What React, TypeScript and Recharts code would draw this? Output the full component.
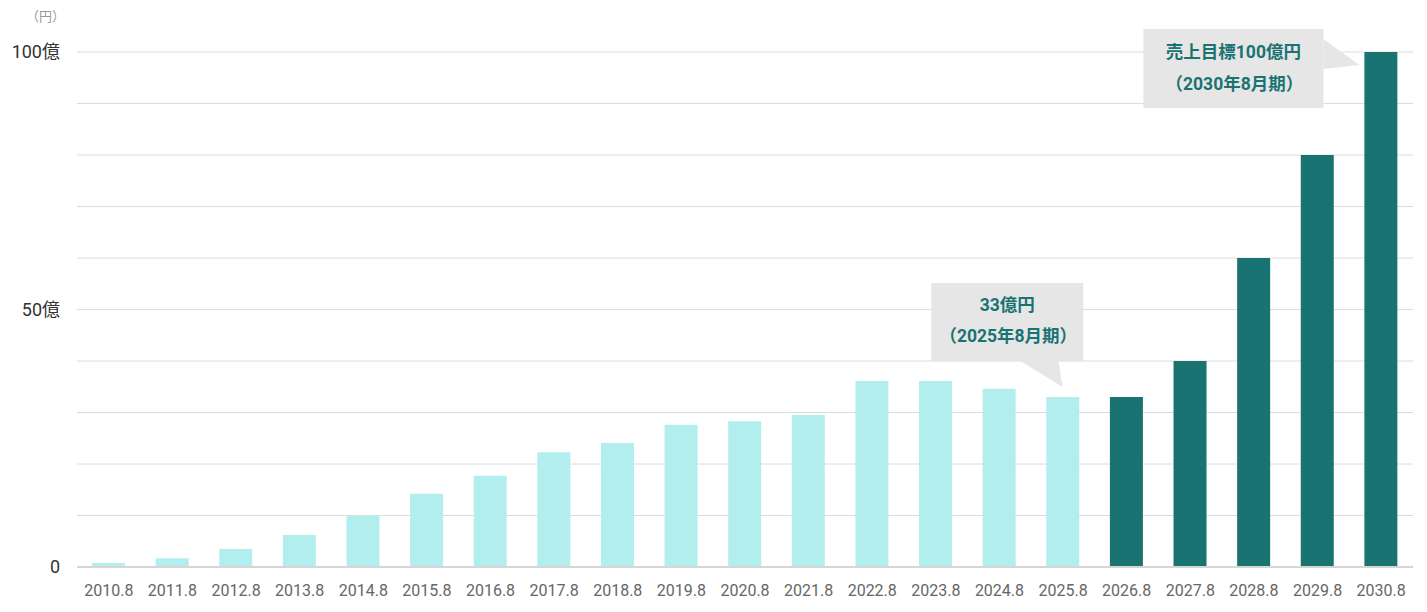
import React from "react";
import { BarChart, Bar, XAxis, YAxis, CartesianGrid, Cell, LabelList } from "recharts";

const years = [
  "2010.8", "2011.8", "2012.8", "2013.8", "2014.8", "2015.8", "2016.8",
  "2017.8", "2018.8", "2019.8", "2020.8", "2021.8", "2022.8", "2023.8",
  "2024.8", "2025.8", "2026.8", "2027.8", "2028.8", "2029.8", "2030.8",
];
// 売上（億円）
const sales = [
  0.8, 1.7, 3.5, 6.2, 10.0, 14.2, 17.7, 22.3, 24.1, 27.6, 28.3, 29.5,
  36.1, 36.1, 34.6, 33.0, 33.0, 40.0, 60.0, 80.0, 100.0,
];
const yTicks = [0, 10, 20, 30, 40, 50, 60, 70, 80, 90, 100];
const yTickLabels: Record<number, string> = { 0: "0", 50: "50億", 100: "100億" };

const actualColor = "#b3eeee";
const planColor = "#1a7373";
const firstPlanYear = "2026.8";

const noteYears = ["2025.8", "2030.8"];
const noteLines = [
  ["33億円", "（2025年8月期）"],
  ["売上目標100億円", "（2030年8月期）"],
];

const data = years.map((y, i) => ({ year: y, sales: sales[i] }));
const planStart = years.indexOf(firstPlanYear);

const font = "Roboto, 'Noto Sans CJK JP', sans-serif";

function Callout(props: any) {
  const { x, y, width, index } = props;
  const n = noteYears.indexOf(years[index]);
  if (n < 0) return null;
  const lines = noteLines[n];
  const textStyle = { fontFamily: font, fontSize: 17.5, fontWeight: 700, fill: planColor };
  if (n === 0) {
    // box above-left of bar, pointer down to bar top
    const bx = x - 115, by = y - 114, bw = 152, bh = 78;
    const cx = bx + bw / 2;
    return (
      <g>
        <rect x={bx} y={by} width={bw} height={bh} fill="#e6e6e6" />
        <polygon points={`${x - 26},${by + bh} ${x + 12},${by + bh} ${x + width / 2},${y - 10}`} fill="#e6e6e6" />
        <text x={cx} y={by + 28} textAnchor="middle" style={textStyle}>{lines[0]}</text>
        <text x={cx + 1} y={by + 59} textAnchor="middle" style={textStyle}>{lines[1]}</text>
      </g>
    );
  }
  // box left of bar, pointer right to bar
  const bx = x - 221, by = y - 23, bw = 180, bh = 79;
  const cx = bx + bw / 2;
  return (
    <g>
      <rect x={bx} y={by} width={bw} height={bh} fill="#e6e6e6" />
      <polygon points={`${bx + bw},${by + 10} ${x - 5},${y + 13} ${bx + bw},${by + 40}`} fill="#e6e6e6" />
      <text x={cx} y={by + 29} textAnchor="middle" style={textStyle}>{lines[0]}</text>
      <text x={cx + 1} y={by + 61} textAnchor="middle" style={textStyle}>{lines[1]}</text>
    </g>
  );
}

export default function App() {
  return (
    <div style={{ position: "absolute", left: 0, top: 0, width: 1427, height: 612, background: "#fff", fontFamily: font }}>
      <div style={{ position: "absolute", left: 26, top: 6, fontSize: 13, color: "#999" }}>（円）</div>
      <BarChart
        width={1427}
        height={612}
        data={data}
        margin={{ top: 52, right: 14, bottom: 0, left: 0 }}
        barSize={33}
      >
        <CartesianGrid vertical={false} stroke="#dcdcdc" strokeWidth={1} />
        <XAxis
          dataKey="year"
          height={45}
          tickLine={false}
          axisLine={{ stroke: "#d6d6d6", strokeWidth: 2 }}
          tickMargin={12}
          interval={0}
          tick={{ fill: "#666", fontSize: 16, fontFamily: font }}
        />
        <YAxis
          width={77}
          domain={[0, 100]}
          ticks={yTicks}
          tickFormatter={(v: number) => yTickLabels[v] ?? ""}
          tickLine={false}
          axisLine={false}
          tickSize={8}
          tickMargin={9}
          tick={{ fill: "#333", fontSize: 18, fontFamily: font }}
        />
        <Bar dataKey="sales" isAnimationActive={false}>
          {data.map((d, i) => (
            <Cell key={d.year} fill={i >= planStart ? planColor : actualColor} />
          ))}
          <LabelList dataKey="sales" content={<Callout />} />
        </Bar>
      </BarChart>
    </div>
  );
}
